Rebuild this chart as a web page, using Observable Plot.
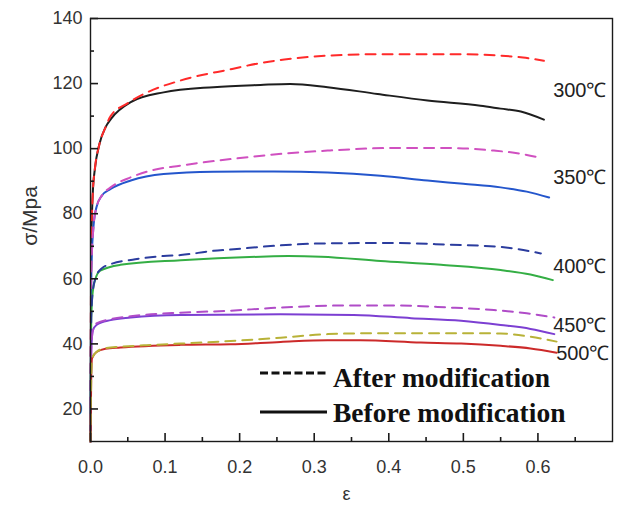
<!DOCTYPE html>
<html><head><meta charset="utf-8">
<script src="https://cdn.jsdelivr.net/npm/d3@7"></script>
<script src="https://cdn.jsdelivr.net/npm/@observablehq/plot@0.6"></script>
<style>html,body{margin:0;padding:0;background:#fff;}</style>
</head><body><div id="chart"></div><script>
// ---- data (strain ε, stress σ in MPa) ----
const temps = ["300℃","350℃","400℃","450℃","500℃"];
const after300 = [[0,10],[0.001,70],[0.003,86],[0.006,94],[0.012,101.4],[0.02,106.5],[0.027,110],[0.05,114],[0.076,117.3],[0.12,120.9],[0.19,124.5],[0.23,126.4],[0.26,127.4],[0.318,128.6],[0.38,129],[0.434,129],[0.5,129],[0.55,128.6],[0.58,128],[0.608,127]];
const before300 = [[0,10],[0.001,70],[0.003,86],[0.006,94],[0.012,101.4],[0.02,106.5],[0.028,109.3],[0.054,114.3],[0.098,117.3],[0.165,118.9],[0.228,119.6],[0.268,119.9],[0.318,118.9],[0.385,116.8],[0.452,114.8],[0.523,113.2],[0.55,112.3],[0.577,111.4],[0.608,108.9]];
const after350 = [[0,10],[0.001,62],[0.004,76],[0.008,82],[0.015,85.5],[0.027,88.1],[0.054,91.2],[0.08,93.2],[0.121,94.8],[0.188,96.8],[0.246,98.2],[0.318,99.4],[0.407,100.2],[0.479,100.2],[0.541,99.4],[0.575,98.5],[0.605,97.1]];
const before350 = [[0,10],[0.001,62],[0.004,76],[0.008,82],[0.015,85.5],[0.027,87.6],[0.054,90.2],[0.098,92.2],[0.165,92.9],[0.246,93.0],[0.318,92.7],[0.389,91.7],[0.452,90.2],[0.5,89.2],[0.55,88.1],[0.585,86.8],[0.615,85.0]];
const after400 = [[0,10],[0.001,48],[0.003,56],[0.008,61],[0.015,63.2],[0.027,64.5],[0.06,66],[0.098,67],[0.121,67.3],[0.165,68.6],[0.188,69],[0.25,70.2],[0.318,70.9],[0.407,71.0],[0.479,70.5],[0.55,69.8],[0.604,67.8]];
const before400 = [[0,10],[0.001,48],[0.003,56],[0.006,59.5],[0.013,62.5],[0.04,64.3],[0.121,65.7],[0.228,66.8],[0.265,67.0],[0.309,66.8],[0.389,65.5],[0.47,64.3],[0.55,62.7],[0.59,61.3],[0.62,59.6]];
const after450 = [[0,10],[0.001,38],[0.003,44],[0.008,46.3],[0.027,47.6],[0.054,48.5],[0.121,49.6],[0.188,50.2],[0.242,51.0],[0.345,51.8],[0.407,51.8],[0.479,51.2],[0.541,50.4],[0.585,49.4],[0.622,48.1]];
const before450 = [[0,10],[0.001,38],[0.003,44],[0.008,45.8],[0.027,47.3],[0.054,48.1],[0.121,48.9],[0.255,49.1],[0.353,48.9],[0.43,47.9],[0.497,47.1],[0.55,45.8],[0.59,44.6],[0.622,43.0]];
const after500 = [[0,10],[0.001,30],[0.002,35.5],[0.008,37.5],[0.02,38.7],[0.04,39.1],[0.075,39.6],[0.121,40.1],[0.188,40.9],[0.255,41.9],[0.318,43.0],[0.389,43.3],[0.479,43.3],[0.55,43.2],[0.59,42.2],[0.625,40.7]];
const before500 = [[0,10],[0.001,30],[0.002,35.5],[0.008,37.5],[0.02,38.5],[0.04,38.9],[0.121,39.7],[0.188,39.9],[0.255,40.6],[0.318,41.1],[0.362,41.1],[0.443,40.4],[0.497,40.1],[0.55,39.4],[0.59,38.6],[0.625,37.3]];
const afterSeries = [after300, after350, after400, after450, after500];
const beforeSeries = [before300, before350, before400, before450, before500];
const afterColors = ["#ff2a2a","#d050c0","#2b3c9e","#b04cc8","#b8b238"];
const beforeColors = ["#1e1e1e","#2456cc","#34ae44","#7c3fd2","#cc2a2a"];
const xMajor = [0,0.1,0.2,0.3,0.4,0.5,0.6];
const xMinor = [0.05,0.15,0.25,0.35,0.45,0.55,0.65];
const yMajor = [20,40,60,80,100,120,140];
const yMinor = [30,50,70,90,110,130];
const legendLabels = ["After modification","Before modification"];
const xLabel = "ε";
const yLabel = "σ/Mpa";

const W = 617, H = 505, ML = 90, MR = 5, MT = 18, MB = 64;
const xDomain = [0, 0.7], yDomain = [10, 140];
// pixel -> data unit factors, for tick lengths
const kx = (xDomain[1] - xDomain[0]) / (W - ML - MR);
const ky = (yDomain[1] - yDomain[0]) / (H - MT - MB);

// label positions derived from curve ends
const tempLabels = temps.map((t,i) => {
  const a = afterSeries[i][afterSeries[i].length-1];
  const b = beforeSeries[i][beforeSeries[i].length-1];
  return {t, y: (a[1]+b[1])/2, last: i === temps.length-1};
});

const lineMarks = [];
temps.forEach((t,i) => {
  lineMarks.push(Plot.line(beforeSeries[i], {x: d=>d[0], y: d=>d[1], stroke: beforeColors[i], strokeWidth: 2, curve: "monotone-x"}));
  lineMarks.push(Plot.line(afterSeries[i], {x: d=>d[0], y: d=>d[1], stroke: afterColors[i], strokeWidth: 2, strokeDasharray: "10,7", curve: "monotone-x"}));
});

const legendMark = (index, scales, values, dim) => {
  const g = d3.create("svg:g");
  const left = dim.marginLeft, bottom = dim.height - dim.marginBottom;
  const x0 = left + 170, x1 = left + 237;
  const rows = [{y: bottom - 68, base: bottom - 54, dash: "8,3.5"}, {y: bottom - 29, base: bottom - 19, dash: null}];
  rows.forEach((r,i) => {
    const ln = g.append("line").attr("x1", x0).attr("x2", x1).attr("y1", r.y).attr("y2", r.y)
      .attr("stroke", "#111").attr("stroke-width", 3);
    if (r.dash) ln.attr("stroke-dasharray", r.dash);
    g.append("text").attr("x", x1 + 6).attr("y", r.base)
      .attr("text-anchor", "start")
      .attr("font-family", "'Liberation Serif','Times New Roman',serif")
      .attr("font-weight", "bold").attr("font-size", 27.5).attr("fill", "#111")
      .text(legendLabels[i]);
  });
  return g.node();
};

const tickStyle = {stroke: "#1a1a1a", strokeWidth: 1.6};

const plot = Plot.plot({
  width: W,
  height: H,
  marginLeft: ML,
  marginRight: MR,
  marginTop: MT,
  marginBottom: MB,
  style: {background: "#fff", fontFamily: "'Liberation Sans', Arial, sans-serif", overflow: "visible"},
  x: {domain: xDomain},
  y: {domain: yDomain},
  marks: [
    ...lineMarks,
    Plot.frame({stroke: "#1a1a1a", strokeWidth: 1.4}),
    // inward ticks
    Plot.ruleX(xMajor, {x: d => d, y1: () => yDomain[0], y2: () => yDomain[0] + 8 * ky, ...tickStyle}),
    Plot.ruleX(xMinor, {x: d => d, y1: () => yDomain[0], y2: () => yDomain[0] + 4 * ky, ...tickStyle}),
    Plot.ruleY(yMajor, {y: d => d, x1: () => xDomain[0], x2: () => xDomain[0] + 8 * kx, ...tickStyle}),
    Plot.ruleY(yMinor, {y: d => d, x1: () => xDomain[0], x2: () => xDomain[0] + 4 * kx, ...tickStyle}),
    Plot.axisX(xMajor, {tickSize: 0, tickPadding: 19, tickFormat: d3.format(".1f"), fontSize: 18, fill: "#333", label: null}),
    Plot.axisY(yMajor, {tickSize: 0, tickPadding: 8, fontSize: 18, fill: "#333", label: null}),
    Plot.text(tempLabels.filter(d => !d.last), {y: "y", text: "t", frameAnchor: "right", textAnchor: "end", dx: -6, fontSize: 20, fill: "#222"}),
    Plot.text(tempLabels.filter(d => d.last), {y: "y", text: "t", frameAnchor: "right", textAnchor: "end", dx: -3, dy: 6, fontSize: 20, fill: "#222"}),
    Plot.text([xLabel], {text: d => d, frameAnchor: "bottom", textAnchor: "middle", lineAnchor: "middle", dx: -5, dy: 53, fontSize: 18, fill: "#333"}),
    Plot.text([yLabel], {text: d => d, frameAnchor: "left", textAnchor: "middle", lineAnchor: "middle", rotate: -90, dx: -60, dy: -14, fontSize: 21, fill: "#333"}),
    legendMark
  ]
});
document.getElementById("chart").appendChild(plot);
</script></body></html>
